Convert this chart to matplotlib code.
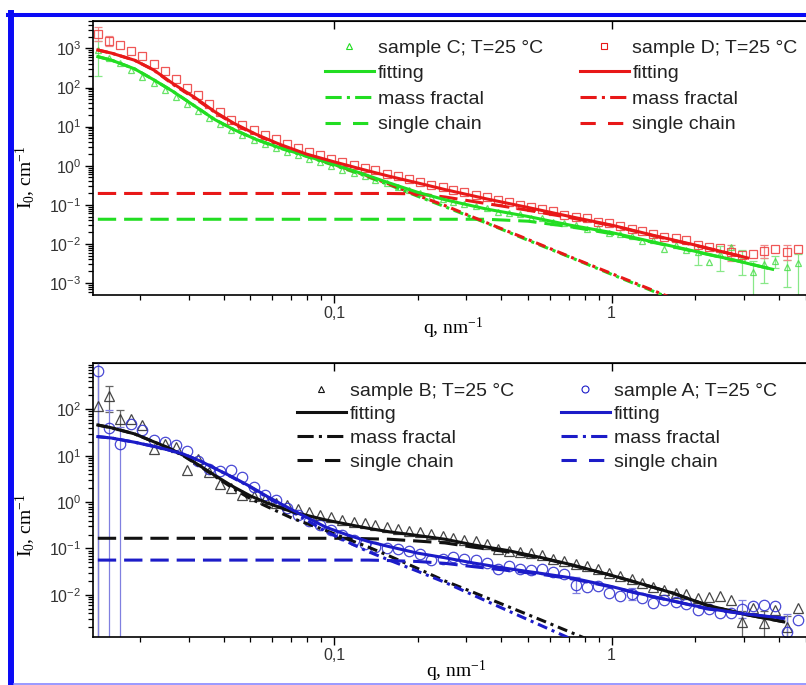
import numpy as np
import matplotlib
matplotlib.use("Agg")
import matplotlib.pyplot as plt
from matplotlib.lines import Line2D
from matplotlib.ticker import FixedLocator, FuncFormatter, LogLocator, NullFormatter, NullLocator

W, H = 806, 685

# measured q points (nm^-1), same grid in both panels
q_data = [0.0141, 0.0155, 0.0170, 0.0186, 0.0204, 0.0224, 0.0246, 0.0269, 0.0295, 0.0324,
          0.0355, 0.0389, 0.0427, 0.0468, 0.0513, 0.0562, 0.0617, 0.0676, 0.0741, 0.0813,
          0.0891, 0.0977, 0.107, 0.118, 0.129, 0.141, 0.155, 0.170, 0.186, 0.204,
          0.224, 0.246, 0.269, 0.295, 0.324, 0.355, 0.389, 0.427, 0.468, 0.513,
          0.562, 0.617, 0.676, 0.741, 0.813, 0.891, 0.977, 1.07, 1.18, 1.29,
          1.41, 1.55, 1.70, 1.86, 2.04, 2.24, 2.46, 2.69, 2.95, 3.24,
          3.55, 3.89, 4.27, 4.68]

# log10 of I0 (cm^-1)
logI_C = [2.96, 2.75, 2.62, 2.45, 2.28, 2.12, 1.94, 1.76, 1.58, 1.40,
          1.22, 1.06, 0.92, 0.79, 0.67, 0.56, 0.46, 0.36, 0.27, 0.18,
          0.09, 0.00, -0.10, -0.18, -0.26, -0.36, -0.44, -0.55, -0.62, -0.71,
          -0.80, -0.84, -0.92, -0.98, -1.04, -1.08, -1.18, -1.20, -1.24, -1.33,
          -1.34, -1.45, -1.47, -1.52, -1.62, -1.60, -1.72, -1.74, -1.80, -1.92,
          -1.90, -2.12, -2.04, -2.15, -2.22, -2.46, -2.27, -2.07, -2.35, -2.71,
          -2.52, -2.45, -2.60, -2.48]
logI_D = [3.37, 3.20, 3.10, 2.93, 2.80, 2.60, 2.42, 2.22, 2.00, 1.80,
          1.58, 1.37, 1.18, 1.04, 0.92, 0.79, 0.68, 0.56, 0.45, 0.35,
          0.27, 0.18, 0.10, 0.02, -0.06, -0.12, -0.20, -0.27, -0.35, -0.41,
          -0.49, -0.55, -0.62, -0.68, -0.76, -0.80, -0.88, -0.93, -1.00, -1.06,
          -1.10, -1.17, -1.26, -1.30, -1.34, -1.44, -1.47, -1.55, -1.62, -1.66,
          -1.75, -1.82, -1.86, -1.90, -2.02, -2.08, -2.10, -2.22, -2.28, -2.25,
          -2.18, -2.12, -2.20, -2.14]
logI_B = [2.07, 2.28, 1.78, 1.80, 1.66, 1.14, 1.25, 1.18, 0.70, 0.92,
          0.64, 0.40, 0.30, 0.16, 0.14, 0.06, -0.02, -0.06, -0.15, -0.22,
          -0.27, -0.33, -0.38, -0.42, -0.46, -0.50, -0.53, -0.57, -0.62, -0.64,
          -0.68, -0.73, -0.77, -0.82, -0.84, -0.90, -1.02, -1.05, -1.08, -1.10,
          -1.14, -1.22, -1.27, -1.33, -1.38, -1.45, -1.53, -1.60, -1.66, -1.74,
          -1.82, -1.90, -1.96, -1.97, -2.06, -2.05, -2.02, -2.12, -2.58, -2.29,
          -2.61, -2.33, -2.69, -2.29]
logI_A = [2.83, 1.60, 1.25, 1.68, 1.55, 1.33, 1.30, 1.22, 1.10, 0.88,
          0.72, 0.66, 0.70, 0.55, 0.32, 0.16, 0.04, -0.12, -0.28, -0.40,
          -0.50, -0.60, -0.72, -0.82, -0.90, -0.96, -0.98, -1.02, -1.05, -1.12,
          -1.24, -1.22, -1.18, -1.22, -1.25, -1.32, -1.45, -1.38, -1.44, -1.46,
          -1.45, -1.50, -1.56, -1.78, -1.82, -1.80, -1.96, -2.02, -1.98, -2.06,
          -2.18, -2.12, -2.15, -2.20, -2.33, -2.30, -2.38, -2.40, -2.30, -2.24,
          -2.22, -2.24, -2.79, -2.55]

# error bars: point index, log10 lower end, log10 upper end
C_err_idx = [0, 54, 56, 58, 59, 60, 61, 62, 63]
C_err_lo = [2.30, -2.55, -2.70, -2.80, -3.35, -3.00, -2.62, -3.10, -3.35]
C_err_hi = [3.20, -2.05, -2.05, -2.15, -2.45, -2.35, -2.30, -2.40, -2.25]
D_err_idx = [0, 1, 57, 60, 62]
D_err_lo = [3.20, 3.05, -2.45, -2.35, -2.40]
D_err_hi = [3.55, 3.32, -2.02, -2.02, -2.02]
B_err_idx = [0, 1, 2, 58, 60, 62]
B_err_lo = [-3.5, 1.95, 1.55, -2.95, -3.00, -3.00]
B_err_hi = [3.5, 2.50, 1.98, -2.35, -2.35, -2.45]
A_err_idx = [0, 1, 2, 43, 48, 58, 62]
A_err_lo = [-3.5, -3.5, -3.5, -1.95, -2.12, -2.50, -3.20]
A_err_hi = [3.5, 1.98, 1.62, -1.62, -1.85, -2.12, -2.42]

# model curves, upper panel
top_curve_q = [0.0141, 0.0158, 0.0191, 0.0224, 0.0263, 0.0316, 0.0372, 0.0437, 0.0525, 0.0631,
               0.0794, 0.100, 0.126, 0.158, 0.200, 0.251, 0.355, 0.501, 0.708, 1.00,
               1.41, 2.00, 2.82, 3.09, 3.80]
C_fit = [2.79, 2.70, 2.48, 2.20, 1.90, 1.52, 1.18, 0.92, 0.67, 0.47,
         0.25, 0.03, -0.20, -0.44, -0.68, -0.87, -1.11, -1.30, -1.52, -1.71,
         -1.95, -2.19, -2.43, -2.50, -2.65]
C_mf = [2.79, 2.70, 2.48, 2.20, 1.90, 1.52, 1.18, 0.92, 0.67, 0.46,
        0.24, 0.01, -0.23, -0.49, -0.78, -1.05, -1.47, -1.91, -2.34, -2.78,
        -3.21, -3.65]
C_sc = [-1.37, -1.37, -1.37, -1.37, -1.37, -1.37, -1.37, -1.37, -1.37, -1.37,
        -1.37, -1.37, -1.37, -1.37, -1.37, -1.37, -1.37, -1.42, -1.56, -1.74,
        -1.96, -2.20, -2.43, -2.50, -2.65]
D_fit = [2.96, 2.88, 2.70, 2.45, 2.10, 1.74, 1.38, 1.08, 0.80, 0.56,
         0.30, 0.10, -0.09, -0.27, -0.44, -0.61, -0.85, -1.07, -1.30, -1.52,
         -1.78, -2.03, -2.29, -2.36]
D_mf = [2.96, 2.88, 2.70, 2.45, 2.08, 1.72, 1.37, 1.06, 0.79, 0.54,
        0.26, 0.03, -0.21, -0.47, -0.76, -1.02, -1.46, -1.89, -2.33, -2.76,
        -3.19, -3.63]
D_sc = [-0.71, -0.71, -0.71, -0.71, -0.71, -0.71, -0.71, -0.71, -0.71, -0.71,
        -0.71, -0.71, -0.71, -0.71, -0.72, -0.80, -0.97, -1.14, -1.33, -1.53,
        -1.79, -2.04, -2.29, -2.37]

# model curves, lower panel
bot_curve_q = [0.0141, 0.0158, 0.0191, 0.0224, 0.0251, 0.0288, 0.0331, 0.0380, 0.0437, 0.0501,
               0.0575, 0.0708, 0.0933, 0.112, 0.133, 0.158, 0.200, 0.251, 0.316, 0.419,
               0.562, 0.728, 1.00, 1.26, 1.66, 2.20, 3.02, 4.17]
B_fit = [1.66, 1.60, 1.47, 1.30, 1.18, 1.00, 0.77, 0.54, 0.32, 0.13,
         -0.02, -0.21, -0.385, -0.48, -0.565, -0.64, -0.72, -0.80, -0.92, -1.04,
         -1.20, -1.36, -1.58, -1.75, -1.96, -2.22, -2.42, -2.58]
B_mf = [1.66, 1.60, 1.47, 1.30, 1.17, 0.99, 0.76, 0.52, 0.28, 0.07,
        -0.10, -0.35, -0.61, -0.80, -0.97, -1.16, -1.43, -1.70, -1.94, -2.24,
        -2.55, -2.83, -3.17]
B_sc = [-0.78, -0.78, -0.78, -0.78, -0.78, -0.78, -0.78, -0.78, -0.78, -0.78,
        -0.78, -0.78, -0.78, -0.78, -0.79, -0.80, -0.84, -0.88, -0.97, -1.07,
        -1.21, -1.37, -1.58, -1.75, -1.96, -2.22, -2.42, -2.58]
A_fit = [1.41, 1.38, 1.29, 1.20, 1.13, 1.03, 0.88, 0.70, 0.52, 0.33,
         0.12, -0.17, -0.54, -0.71, -0.85, -0.96, -1.10, -1.20, -1.31, -1.43,
         -1.54, -1.64, -1.82, -1.97, -2.13, -2.29, -2.41, -2.50]
A_mf = [1.41, 1.38, 1.29, 1.20, 1.13, 1.03, 0.88, 0.70, 0.51, 0.32,
        0.10, -0.21, -0.63, -0.86, -1.07, -1.25, -1.49, -1.73, -2.00, -2.33,
        -2.67, -2.97]
A_sc = [-1.25, -1.25, -1.25, -1.25, -1.25, -1.25, -1.25, -1.25, -1.25, -1.25,
        -1.25, -1.25, -1.25, -1.25, -1.25, -1.26, -1.28, -1.32, -1.39, -1.47,
        -1.56, -1.66, -1.83, -1.98, -2.13, -2.30, -2.41, -2.51]

plt.rcParams["font.family"] = ["Liberation Sans", "DejaVu Sans"]
plt.rcParams["mathtext.fontset"] = "custom"
plt.rcParams["mathtext.rm"] = "Liberation Serif"
plt.rcParams["mathtext.it"] = "Liberation Serif:italic"
plt.rcParams["mathtext.bf"] = "Liberation Serif:bold"
plt.rcParams["mathtext.sf"] = "Liberation Sans"

LW = 2.2
DASHDOT = (3.3, 1.6, 1.0, 1.6)
DASHED = (6.0, 2.6)

fig = plt.figure(figsize=(W / 100, H / 100), dpi=100)


def px_box(left, top, right, bottom):
    return [left / W, 1 - bottom / H, (right - left) / W, (bottom - top) / H]


def setup(ax, ylim):
    ax.set_xscale("log")
    ax.set_yscale("log")
    ax.set_xlim(0.01349, 5.63)
    ax.set_ylim(*ylim)
    ax.xaxis.set_major_locator(FixedLocator([0.1, 1]))
    ax.xaxis.set_major_formatter(FuncFormatter(lambda v, p: "0,1" if v < 0.5 else "1"))
    ax.xaxis.set_minor_locator(LogLocator(base=10, subs=np.arange(2, 10), numticks=50))
    ax.xaxis.set_minor_formatter(NullFormatter())
    ax.yaxis.set_major_locator(LogLocator(base=10, numticks=20))
    ax.yaxis.set_major_formatter(
        FuncFormatter(lambda v, p: r"$\mathsf{10^{%d}}$" % round(np.log10(v))))
    ax.yaxis.set_minor_locator(LogLocator(base=10, subs=np.arange(2, 10), numticks=50))
    ax.yaxis.set_minor_formatter(NullFormatter())
    ax.tick_params(which="major", direction="out", length=6, width=1.0,
                   labelsize=11.5, labelcolor="#333333", pad=2)
    ax.tick_params(which="minor", direction="out", length=3.5, width=0.9)
    for s in ax.spines.values():
        s.set_linewidth(1.2)
    top = ax.secondary_xaxis("top")
    top.xaxis.set_major_locator(FixedLocator([0.1, 1]))
    top.xaxis.set_minor_locator(NullLocator())
    top.xaxis.set_major_formatter(NullFormatter())
    top.tick_params(direction="in", length=6, width=1.0)


def draw_sample(ax, logI, err_idx, err_lo, err_hi, marker, color, ecolor, ms, alpha):
    q = np.array(q_data)
    I = np.power(10.0, logI)
    idx = np.array(err_idx)
    lo = np.power(10.0, err_lo)
    hi = np.power(10.0, err_hi)
    ax.errorbar(q[idx], I[idx], yerr=[I[idx] - lo, hi - I[idx]], fmt="none",
                ecolor=ecolor, elinewidth=0.9, capsize=3, capthick=0.9, zorder=1)
    ax.plot(q, I, ls="none", marker=marker, mfc="none", mec=color, ms=ms,
            mew=0.9, alpha=alpha, zorder=2)


def draw_model(ax, cq, fit, mf, sc, color):
    ax.plot(cq[:len(sc)], np.power(10.0, sc), color=color, lw=LW, dashes=DASHED, zorder=3)
    ax.plot(cq[:len(mf)], np.power(10.0, mf), color=color, lw=LW, dashes=DASHDOT, zorder=3)
    ax.plot(cq[:len(fit)], np.power(10.0, fit), color=color, lw=LW, zorder=4)


def add_legend(x, y, color, marker, ms, label, spacing):
    handles = [Line2D([], [], ls="none", marker=marker, mfc="none", mec=color, ms=ms, mew=0.8),
               Line2D([], [], color=color, lw=LW),
               Line2D([], [], color=color, lw=LW, dashes=(5.3, 1.7, 1.0, 1.7)),
               Line2D([], [], color=color, lw=LW, dashes=(5.0, 4.0))]
    labels = [label, "fitting", "mass fractal", "single chain"]
    fig.legend(handles, labels, loc="upper left", bbox_to_anchor=(x / W, 1 - y / H),
               frameon=False, prop={"family": "Liberation Sans", "size": 14},
               handlelength=2.5, handletextpad=0.2, labelspacing=spacing,
               borderpad=0, borderaxespad=0, labelcolor="#222222")


GREEN = "#22dd22"
RED = "#e81818"
BLACK = "#111111"
BLUE = "#1c1cc8"

# upper panel: samples C and D
ax1 = fig.add_axes(px_box(92.5, 20.7, 820, 294.7))
setup(ax1, (10 ** -3.30, 10 ** 3.71))
draw_sample(ax1, logI_C, C_err_idx, C_err_lo, C_err_hi, "^", "#44dd44", "#88e888", 5.0, 0.8)
draw_sample(ax1, logI_D, D_err_idx, D_err_lo, D_err_hi, "s", "#ee4444", "#f08888", 6.0, 0.9)
draw_model(ax1, top_curve_q, C_fit, C_mf, C_sc, GREEN)
draw_model(ax1, top_curve_q, D_fit, D_mf, D_sc, RED)

# lower panel: samples B and A
ax2 = fig.add_axes(px_box(92.5, 363.3, 820, 637))
setup(ax2, (10 ** -2.907, 10 ** 2.99))
draw_sample(ax2, logI_B, B_err_idx, B_err_lo, B_err_hi, "^", "#333333", "#666666", 7.0, 0.9)
draw_sample(ax2, logI_A, A_err_idx, A_err_lo, A_err_hi, "o", "#3535d0", "#8080e0", 7.5, 0.9)
draw_model(ax2, bot_curve_q, B_fit, B_mf, B_sc, BLACK)
draw_model(ax2, bot_curve_q, A_fit, A_mf, A_sc, BLUE)

add_legend(325, 39, GREEN, "^", 5, "sample C; T=25 \u00b0C", 0.41)
add_legend(580, 39, RED, "s", 5, "sample D; T=25 \u00b0C", 0.41)
add_legend(297, 382, BLACK, "^", 5, "sample B; T=25 \u00b0C", 0.31)
add_legend(561, 382, BLUE, "o", 5, "sample A; T=25 \u00b0C", 0.31)

# axis titles
serif = {"family": "Liberation Serif", "size": 14, "ha": "center", "va": "center"}
fig.text(453 / W, 1 - 328 / H, r"q, nm$^{-1}$", **serif)
fig.text(456 / W, 1 - 671 / H, r"q, nm$^{-1}$", **serif)
fig.text(26 / W, 1 - 177 / H, r"I$_0$, cm$^{-1}$", rotation=90, **serif)
fig.text(26 / W, 1 - 525 / H, r"I$_0$, cm$^{-1}$", rotation=90, **serif)

# blue frame around the figure
fig.add_artist(Line2D([11 / W, 11 / W], [1 - 13 / H, 1 - 684 / H], color="#0a0af5",
                      lw=4.3, transform=fig.transFigure))
fig.add_artist(Line2D([8 / W, 1], [1 - 15 / H, 1 - 15 / H], color="#0a0af5",
                      lw=2.9, transform=fig.transFigure))
fig.add_artist(Line2D([14 / W, 1], [1 - 683.5 / H, 1 - 683.5 / H], color="#8888ff",
                      lw=1.2, transform=fig.transFigure))

fig.savefig("out.png", dpi=100)
